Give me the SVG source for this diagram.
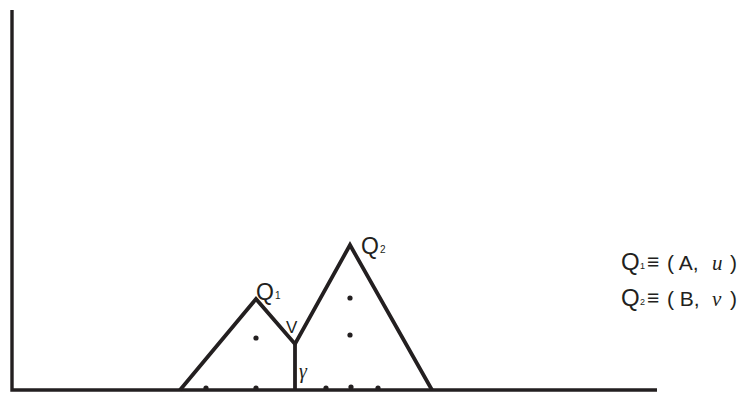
<svg xmlns="http://www.w3.org/2000/svg" width="741" height="394" viewBox="0 0 741 394">
<style>
.ln{fill:none;stroke:#231f20;stroke-width:3.8;stroke-linejoin:miter}
.ax{fill:none;stroke:#231f20;stroke-width:3.4}
.dot{fill:#231f20}
.t{font-family:"Liberation Sans",Arial,sans-serif;fill:#231f20}
.i{font-family:"Liberation Serif","Times New Roman",serif;font-style:italic;fill:#231f20}
</style>
<rect width="741" height="394" fill="#fff"/>
<g id="axes">
<polyline class="ax" points="12,10 12,390 657,390"/>
</g>
<g id="connectors">
<polyline class="ln" points="180,390 256,299 295,344 350,245 432,390"/>
<line class="ln" x1="295" y1="344" x2="295" y2="390"/>
</g>
<g id="dots">
<circle class="dot" cx="256" cy="338" r="2.6"/>
<circle class="dot" cx="350" cy="298" r="2.6"/>
<circle class="dot" cx="350" cy="335" r="2.6"/>
<circle class="dot" cx="206" cy="388" r="2.6"/>
<circle class="dot" cx="256" cy="388" r="2.6"/>
<circle class="dot" cx="326" cy="388" r="2.6"/>
<circle class="dot" cx="351" cy="387" r="2.6"/>
<circle class="dot" cx="378" cy="388" r="2.6"/>
</g>
<g id="Q1">
<text class="t" x="256" y="300" font-size="23">Q</text>
<text class="t" x="275" y="299" font-size="10">1</text>
</g>
<g id="Q2">
<text class="t" x="361" y="254" font-size="23">Q</text>
<text class="t" x="380" y="253" font-size="10">2</text>
</g>
<g id="V"><text class="t" x="286" y="333" font-size="17">V</text></g>
<g id="gamma"><text class="i" x="299" y="378" font-size="20">γ</text></g>
<g id="legend">
<text class="t" x="621" y="270" font-size="24">Q</text>
<text class="t" x="640" y="269" font-size="9">1</text>
<text class="t" x="647" y="269" font-size="21">≡</text>
<text class="t" x="667" y="270" font-size="21">( A,</text>
<text class="i" x="712" y="270" font-size="21">u</text>
<text class="t" x="730" y="270" font-size="21">)</text>
<text class="t" x="621" y="306" font-size="24">Q</text>
<text class="t" x="640" y="305" font-size="9">2</text>
<text class="t" x="647" y="305" font-size="21">≡</text>
<text class="t" x="667" y="306" font-size="21">( B,</text>
<text class="i" x="712" y="306" font-size="21">v</text>
<text class="t" x="730" y="306" font-size="21">)</text>
</g>
</svg>
